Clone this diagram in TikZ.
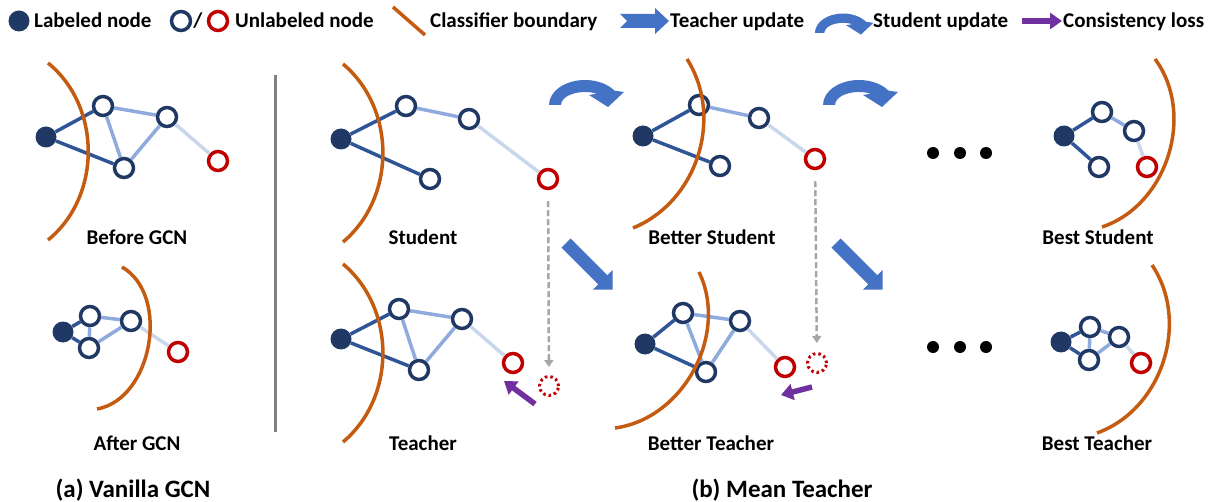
\documentclass[tikz,border=0pt]{standalone}
\usepackage{fontspec}
\setmainfont{Carlito}
\usepackage{tikz}
\usetikzlibrary{arrows.meta}

\definecolor{navy}{HTML}{203864}
\definecolor{redc}{HTML}{C00000}
\definecolor{orangec}{HTML}{C55A11}
\definecolor{edgedark}{HTML}{2F5597}
\definecolor{edgemid}{HTML}{8FAADC}
\definecolor{edgelight}{HTML}{C9D6EC}
\definecolor{blockblue}{HTML}{4472C4}
\definecolor{purplec}{HTML}{7030A0}
\definecolor{grayc}{HTML}{A6A6A6}

\tikzset{
    lab/.style={circle, fill=navy, minimum size=21pt, inner sep=0pt},
    unl/.style={circle, draw=navy, line width=3.5pt, fill=white, minimum size=19pt, inner sep=0pt},
    unlred/.style={unl, draw=redc},
    ghost/.style={circle, draw=redc, line width=3pt, dash pattern=on 2.5pt off 3pt, minimum size=19pt, inner sep=0pt},
    dedge/.style={draw=edgedark, line width=3.5pt},
    medge/.style={draw=edgemid, line width=3.5pt},
    ledge/.style={draw=edgelight, line width=3.5pt},
    bnd/.style={draw=orangec, line width=3.5pt},
    cons/.style={draw=purplec, line width=5.5pt, -{Triangle[length=12pt,width=16pt]}},
    fwd/.style={draw=grayc, line width=2.5pt, dash pattern=on 6pt off 3pt, -{Triangle[length=7pt,width=9pt]}},
    sep/.style={draw=gray, line width=3pt},
    lbl/.style={font=\bfseries\fontsize{21}{25}\selectfont, anchor=base, inner sep=0pt},
    keytext/.style={lbl, anchor=base west},
    title/.style={lbl, font=\bfseries\fontsize{25}{30}\selectfont},
    tupdate/.pic={\fill[blockblue] (0,-6.5) -- (52,-6.5) -- (52,-14) -- (66,0) -- (52,14) -- (52,6.5) -- (0,6.5) -- cycle;},
    supdate/.pic={\fill[blockblue] (-36,0) arc[start angle=180, end angle=35, x radius=36, y radius=25] -- (39,13) -- (23,-2) -- (4,10) -- (12,11.3) arc[start angle=60, end angle=180, x radius=24, y radius=13] -- cycle;}
}

\begin{document}
\begin{tikzpicture}[x=1pt, y=1pt]
            \useasboundingbox (0,0) rectangle (1217,-502);

            % legend
            \node[lab] (key-lab) at (19,-21) {};
            \node[keytext] (key-lab-txt) at (34,-28) {Labeled node};
            \node[unl] (key-unl) at (181,-21) {};
            \node[lbl] (key-slash) at (198,-28) {/};
            \node[unlred] (key-red) at (218,-21) {};
            \node[keytext] (key-unl-txt) at (235,-28) {Unlabeled node};
            \draw[bnd] (393,-7) -- (425,-35);
            \node[keytext] (key-bnd-txt) at (430,-28) {Classifier boundary};
            \fill[blockblue] (620,-14) -- (655,-14) -- (655,-8) -- (669,-21) -- (655,-34) -- (655,-28) -- (620,-28) -- (627,-21) -- cycle;
            \node[keytext] (key-t-txt) at (670,-28) {Teacher update};
            \pic[scale=0.78] at (843,-33) {supdate};
            \node[keytext] (key-s-txt) at (873,-28) {Student update};
            \coordinate (key-c0) at (1022,-21);
            \coordinate (key-c1) at (1062,-21);
            \draw[cons] (key-c0) -- (key-c1);
            \node[keytext] (key-c-txt) at (1063,-28) {Consistency loss};

            % (a) vanilla GCN
            \node[lab] (pre-l) at (46,-137) {};
            \node[unl] (pre-a) at (103,-106) {};
            \node[unl] (pre-b) at (167,-117) {};
            \node[unl] (pre-c) at (124,-168) {};
            \node[unlred] (pre-u) at (218,-161) {};
            \draw[dedge] (pre-l) -- (pre-a);
            \draw[dedge] (pre-l) -- (pre-c);
            \draw[medge] (pre-a) -- (pre-c);
            \draw[medge] (pre-a) -- (pre-b);
            \draw[medge] (pre-b) -- (pre-c);
            \draw[ledge] (pre-b) -- (pre-u);
            \draw[bnd] (48,-63) to[bend left=51] (48,-240);
            \node[lbl] (pre-txt) at (137,-245) {Before GCN};

            \node[lab] (post-l) at (63,-332) {};
            \node[unl] (post-a) at (90,-316) {};
            \node[unl] (post-b) at (89,-348) {};
            \node[unl] (post-c) at (131,-321) {};
            \node[unlred] (post-u) at (178,-352) {};
            \draw[dedge] (post-l) -- (post-a);
            \draw[dedge] (post-l) -- (post-b);
            \draw[medge] (post-a) -- (post-b);
            \draw[medge] (post-a) -- (post-c);
            \draw[medge] (post-b) -- (post-c);
            \draw[ledge] (post-c) -- (post-u);
            \draw[bnd] (122,-267) to[bend left=70] (97,-409);
            \node[lbl] (post-txt) at (137,-450) {After GCN};
            \node[title] (a-txt) at (133,-497) {(a) Vanilla GCN};

            \draw[sep] (275,-75) -- (275,-432);

            % (b) mean teacher: student / teacher
            \node[lab] (s1-l) at (341,-139) {};
            \node[unl] (s1-a) at (406,-106) {};
            \node[unl] (s1-b) at (469,-119) {};
            \node[unl] (s1-c) at (430,-179) {};
            \node[unlred] (s1-u) at (548,-179) {};
            \draw[dedge] (s1-l) -- (s1-a);
            \draw[dedge] (s1-l) -- (s1-c);
            \draw[medge] (s1-a) -- (s1-b);
            \draw[ledge] (s1-b) -- (s1-u);
            \draw[bnd] (343,-64) to[bend left=50] (343,-242);
            \node[lbl] (s1-txt) at (423,-245) {Student};

            \node[lab] (t1-l) at (341,-339) {};
            \node[unl] (t1-a) at (399,-309) {};
            \node[unl] (t1-b) at (462,-319) {};
            \node[unl] (t1-c) at (419,-370) {};
            \node[unlred] (t1-u) at (513,-363) {};
            \node[ghost] (t1-d) at (549,-386) {};
            \draw[dedge] (t1-l) -- (t1-a);
            \draw[dedge] (t1-l) -- (t1-c);
            \draw[medge] (t1-a) -- (t1-c);
            \draw[medge] (t1-a) -- (t1-b);
            \draw[medge] (t1-b) -- (t1-c);
            \draw[ledge] (t1-b) -- (t1-u);
            \draw[bnd] (343,-264) to[bend left=50] (343,-442);
            \node[lbl] (t1-txt) at (423,-450) {Teacher};

            \draw[fwd, shorten <=11pt, shorten >=8pt] (s1-u) -- (t1-d);
            \coordinate (t1-c0) at (535,-404);
            \coordinate (t1-c1) at (504,-381);
            \draw[cons] (t1-c0) -- (t1-c1);
            \pic at (585,-105) {supdate};
            \pic[rotate=-45] at (566,-243) {tupdate};

            % better student / better teacher
            \node[lab] (s2-l) at (643,-136) {};
            \node[unl] (s2-a) at (699,-105) {};
            \node[unl] (s2-b) at (759,-118) {};
            \node[unl] (s2-c) at (720,-166) {};
            \node[unlred] (s2-u) at (815,-159) {};
            \draw[dedge] (s2-l) -- (s2-a);
            \draw[dedge] (s2-l) -- (s2-c);
            \draw[medge] (s2-a) -- (s2-b);
            \draw[ledge] (s2-b) -- (s2-u);
            \draw[bnd] (687,-59) to[bend left=50] (633,-228);
            \node[lbl] (s2-txt) at (712,-245) {Better Student};

            \node[lab] (t2-l) at (645,-344) {};
            \node[unl] (t2-a) at (683,-313) {};
            \node[unl] (t2-b) at (740,-321) {};
            \node[unl] (t2-c) at (706,-372) {};
            \node[unlred] (t2-u) at (785,-367) {};
            \node[ghost] (t2-d) at (817,-363) {};
            \draw[dedge] (t2-l) -- (t2-a);
            \draw[dedge] (t2-l) -- (t2-c);
            \draw[medge] (t2-a) -- (t2-c);
            \draw[medge] (t2-a) -- (t2-b);
            \draw[medge] (t2-b) -- (t2-c);
            \draw[ledge] (t2-b) -- (t2-u);
            \draw[bnd] (699,-272) to[bend left=54] (615,-428);
            \node[lbl] (t2-txt) at (711,-450) {Better Teacher};

            \draw[fwd, shorten <=11pt, shorten >=9pt] (s2-u) -- (t2-d);
            \coordinate (t2-c0) at (812,-387);
            \coordinate (t2-c1) at (781,-395);
            \draw[cons] (t2-c0) -- (t2-c1);
            \pic at (859,-105) {supdate};
            \pic[rotate=-45] at (836,-243) {tupdate};

            % dots
            \fill (933,-153) circle (6);
            \fill (960,-153) circle (6);
            \fill (986,-153) circle (6);
            \fill (933,-347) circle (6);
            \fill (960,-347) circle (6);
            \fill (986,-347) circle (6);

            % best student / best teacher
            \node[lab] (s3-l) at (1064,-136) {};
            \node[unl] (s3-a) at (1102,-112) {};
            \node[unl] (s3-b) at (1134,-131) {};
            \node[unl] (s3-c) at (1099,-167) {};
            \node[unlred] (s3-u) at (1147,-167) {};
            \draw[dedge] (s3-l) -- (s3-a);
            \draw[dedge] (s3-l) -- (s3-c);
            \draw[medge] (s3-a) -- (s3-b);
            \draw[ledge] (s3-b) -- (s3-u);
            \draw[bnd] (1155,-59) to[bend left=54] (1102,-227);
            \node[lbl] (s3-txt) at (1098,-245) {Best Student};

            \node[lab] (t3-l) at (1061,-342) {};
            \node[unl] (t3-a) at (1090,-327) {};
            \node[unl] (t3-b) at (1119,-337) {};
            \node[unl] (t3-c) at (1089,-360) {};
            \node[unlred] (t3-u) at (1141,-363) {};
            \draw[dedge] (t3-l) -- (t3-a);
            \draw[dedge] (t3-l) -- (t3-c);
            \draw[medge] (t3-a) -- (t3-c);
            \draw[medge] (t3-a) -- (t3-b);
            \draw[medge] (t3-c) -- (t3-b);
            \draw[ledge] (t3-b) -- (t3-u);
            \draw[bnd] (1152,-265) to[bend left=52] (1097,-433);
            \node[lbl] (t3-txt) at (1097,-450) {Best Teacher};

            \node[title] (b-txt) at (782,-497) {(b) Mean Teacher};
\end{tikzpicture}
\end{document}
